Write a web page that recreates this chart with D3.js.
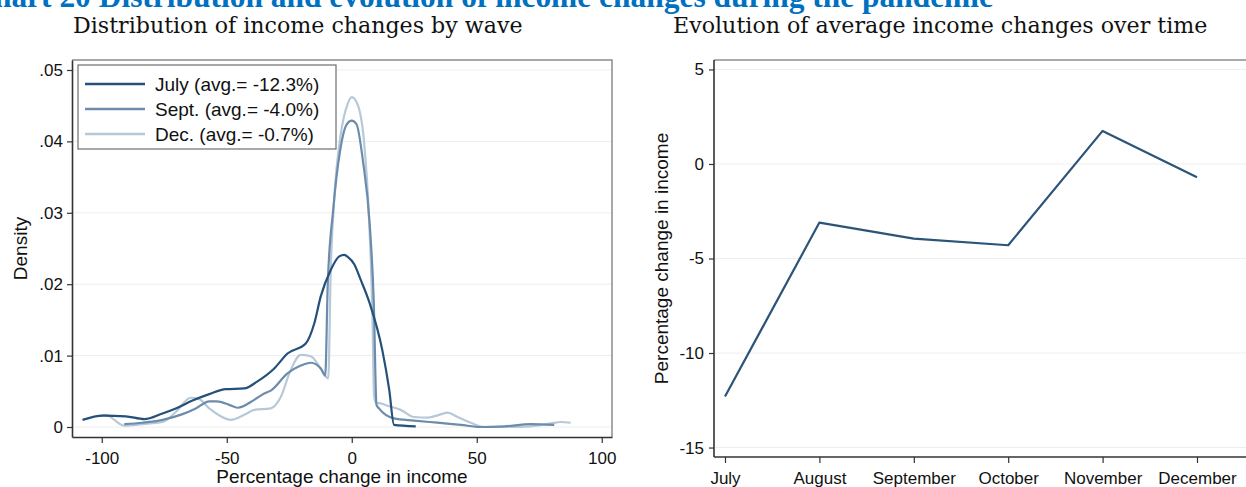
<!DOCTYPE html>
<html>
<head>
<meta charset="utf-8">
<script src="https://cdn.jsdelivr.net/npm/d3@7/dist/d3.min.js"></script>
<style>
  html, body { margin: 0; padding: 0; background: #fff; }
  svg { display: block; }
</style>
</head>
<body>
<svg id="chart" width="1246" height="487"></svg>
<script>
// ---------------- DATA ----------------
const headerText = "Chart 20 Distribution and evolution of income changes during the pandemic";
const leftTitle = "Distribution of income changes by wave";
const rightTitle = "Evolution of average income changes over time";

const seriesNames = ["July (avg.= -12.3%)", "Sept. (avg.= -4.0%)", "Dec. (avg.= -0.7%)"];

// July density: [income change %, density]
const julyDensity = [
  [-107.7,0.0010],[-99.7,0.0016],[-90.4,0.0015],[-83,0.0011],[-75.7,0.0019],[-70.4,0.0026],
  [-63.7,0.0037],[-57,0.0046],[-50.4,0.0053],[-43,0.0054],[-37.7,0.0064],[-31,0.0082],
  [-25.7,0.0103],[-18.4,0.0117],[-15,0.0145],[-12.4,0.0183],[-8.4,0.0220],[-5,0.0239],
  [-3,0.0241],[-1.5,0.0238],[1,0.0228],[3.6,0.0206],[7.2,0.0173],[12.2,0.0108],
  [15,0.0052],[16.9,0.0003],[25.6,0.0001]
];
const septDensity = [
  [-91,0.0004],[-83.7,0.0006],[-75.7,0.0010],[-67.7,0.0018],[-62.4,0.0026],[-57,0.0036],
  [-54,0.0036],[-49,0.0031],[-45.7,0.0027],[-39,0.0038],[-35,0.0047],[-32.4,0.0051],
  [-25.7,0.0075],[-20.4,0.0086],[-16.4,0.0090],[-12.4,0.0082],[-10.6,0.0072],[-9.6,0.0200],
  [-7.4,0.0305],[-4.7,0.0386],[-2,0.0424],[0,0.0429],[1.9,0.0424],[4.5,0.0372],
  [7.2,0.0283],[8.8,0.0176],[9.9,0.0031],[10.9,0.0026],[16.9,0.0012],[24.9,0.0009],
  [34.3,0.0006],[43.6,0.0003],[51.6,0.0000],[61,0.0001],[71.6,0.0004],[81,0.0003]
];
const decDensity = [
  [-101,0.0015],[-98,0.0017],[-95,0.0010],[-91,0.0002],[-83.7,0.0004],[-75.7,0.0007],
  [-70.4,0.0021],[-64.4,0.0041],[-61,0.0039],[-57,0.0026],[-52.4,0.0015],[-48.4,0.0010],
  [-43,0.0017],[-39,0.0024],[-32.4,0.0026],[-28.4,0.0042],[-24.4,0.0080],[-20.4,0.0101],
  [-16.4,0.0099],[-12.4,0.0082],[-9.4,0.0068],[-8.4,0.0220],[-7,0.0320],[-4.4,0.0410],
  [-1.7,0.0452],[0,0.0462],[2.3,0.0452],[4.9,0.0400],[6.9,0.0293],[8.3,0.0152],
  [8.9,0.0045],[9.6,0.0034],[11.6,0.0033],[15,0.0029],[19.6,0.0024],[24.9,0.0014],
  [30.2,0.0013],[34,0.0016],[38.3,0.0020],[42.3,0.0014],[47.6,0.0006],[52.9,0.0000],
  [63.6,0.0000],[71.6,0.0001],[79.6,0.0005],[83.6,0.0007],[87.6,0.0006]
];
const leftXTicks = [-100, -50, 0, 50, 100];
const leftYTicks = [0, 0.01, 0.02, 0.03, 0.04, 0.05];
const leftYTickLabels = ["0", ".01", ".02", ".03", ".04", ".05"];

const months = ["July", "August", "September", "October", "November", "December"];
const avgChange = [-12.3, -3.1, -3.95, -4.3, 1.75, -0.7];
const rightYTicks = [5, 0, -5, -10, -15];

// ---------------- STYLE ----------------
const colors = ["#24507a", "#6b8cab", "#b7c8d9"];
const axisFont = "'Liberation Sans', Arial, sans-serif";
const titleFont = "'DejaVu Serif', serif";
const svg = d3.select("#chart");

// fit text to target width by adjusting font-size
function fitText(sel, target, base) {
  const len = sel.node().getComputedTextLength();
  sel.attr("font-size", base * target / len);
}

// ---------------- HEADER / TITLES ----------------
const hdr = svg.append("text").text(headerText)
  .attr("x", 993).attr("y", 7).attr("text-anchor", "end")
  .attr("font-family", "'Liberation Serif', serif").attr("font-weight", "bold")
  .attr("fill", "#0070c0").attr("font-size", 24);
fitText(hdr, 1022, 24);

const lt = svg.append("text").text(leftTitle)
  .attr("x", 73).attr("y", 33).attr("font-family", titleFont)
  .attr("fill", "#111").attr("font-size", 22);
fitText(lt, 450, 22);
const rt = svg.append("text").text(rightTitle)
  .attr("x", 673).attr("y", 33).attr("font-family", titleFont)
  .attr("fill", "#111").attr("font-size", 22);
fitText(rt, 535, 22);

// ---------------- LEFT PANEL ----------------
const L = { left: 72, right: 612, top: 60, bottom: 437 };
const xL = d3.scaleLinear().domain([-111.9, 104.1]).range([L.left, L.right]);
const yL = d3.scaleLinear().domain([-0.0014, 0.0514]).range([L.bottom, L.top]);

const gL = svg.append("g");
// grid
gL.selectAll("line.grid").data(leftYTicks).join("line")
  .attr("x1", L.left).attr("x2", L.right)
  .attr("y1", d => yL(d)).attr("y2", d => yL(d))
  .attr("stroke", "#eeeeee").attr("stroke-width", 1);
// frame (top, right)
gL.append("path")
  .attr("d", `M${L.left},${L.top}H${L.right}V${L.bottom}`)
  .attr("fill", "none").attr("stroke", "#8c8c8c").attr("stroke-width", 1.5);

// curves
const lineL = d3.line().x(d => xL(d[0])).y(d => yL(d[1])).curve(d3.curveMonotoneX);
const curves = [julyDensity, septDensity, decDensity];
[2, 1, 0].forEach(i => {
  gL.append("path").datum(curves[i])
    .attr("d", lineL).attr("fill", "none")
    .attr("stroke", colors[i]).attr("stroke-width", 2.2)
    .attr("stroke-linejoin", "round");
});

// axes
const yAxisL = gL.append("g").attr("transform", `translate(${L.left},0)`)
  .call(d3.axisLeft(yL).tickValues(leftYTicks)
    .tickFormat((d, i) => leftYTickLabels[i]).tickSize(5).tickSizeOuter(0).tickPadding(4));
const xAxisL = gL.append("g").attr("transform", `translate(0,${L.bottom})`)
  .call(d3.axisBottom(xL).tickValues(leftXTicks).tickFormat(d3.format("d"))
    .tickSize(6).tickSizeOuter(0).tickPadding(9));
[yAxisL, xAxisL].forEach(a => {
  a.select(".domain").attr("stroke", "#333").attr("stroke-width", 1.6);
  a.selectAll(".tick line").attr("stroke", "#333").attr("stroke-width", 1.2);
  a.selectAll("text").attr("font-family", axisFont).attr("font-size", 17).attr("fill", "#111");
});
xAxisL.selectAll(".tick text").text(d => d < 0 ? "-" + Math.abs(d) : d);

// axis titles
gL.append("text").text("Percentage change in income")
  .attr("x", (L.left + L.right) / 2).attr("y", 483).attr("text-anchor", "middle")
  .attr("font-family", axisFont).attr("font-size", 19).attr("fill", "#111");
gL.append("text").text("Density")
  .attr("transform", `translate(27,${(L.top + L.bottom) / 2}) rotate(-90)`)
  .attr("text-anchor", "middle")
  .attr("font-family", axisFont).attr("font-size", 19).attr("fill", "#111");

// legend
const lg = gL.append("g");
lg.append("rect").attr("x", 78).attr("y", 65).attr("width", 258).attr("height", 84)
  .attr("fill", "#fff").attr("stroke", "#6e6e6e").attr("stroke-width", 1.2);
seriesNames.forEach((name, i) => {
  const yy = 84 + i * 25;
  lg.append("line").attr("x1", 85).attr("x2", 145).attr("y1", yy).attr("y2", yy)
    .attr("stroke", colors[i]).attr("stroke-width", 2.4);
  lg.append("text").text(name).attr("x", 155).attr("y", yy).attr("dy", "0.36em")
    .attr("font-family", axisFont).attr("font-size", 19).attr("fill", "#111");
});

// ---------------- RIGHT PANEL ----------------
const R = { left: 714, right: 1262, top: 60, bottom: 457 };
const xR = d3.scalePoint().domain(months).range([725, 1197]);
const yR = d3.scaleLinear().domain([-15.5, 5.5]).range([R.bottom, R.top]);
const gR = svg.append("g");

gR.selectAll("line.grid").data(rightYTicks).join("line")
  .attr("x1", R.left).attr("x2", R.right)
  .attr("y1", d => yR(d)).attr("y2", d => yR(d))
  .attr("stroke", "#eeeeee").attr("stroke-width", 1);
gR.append("line").attr("x1", R.left).attr("x2", R.right)
  .attr("y1", R.top).attr("y2", R.top)
  .attr("stroke", "#8c8c8c").attr("stroke-width", 1.5);

const lineR = d3.line().x((d, i) => xR(months[i])).y(d => yR(d));
gR.append("path").datum(avgChange).attr("d", lineR)
  .attr("fill", "none").attr("stroke", "#2b5478").attr("stroke-width", 2.2)
  .attr("stroke-linejoin", "round");

const yAxisR = gR.append("g").attr("transform", `translate(${R.left},0)`)
  .call(d3.axisLeft(yR).tickValues(rightYTicks).tickFormat(d3.format("d"))
    .tickSize(5).tickSizeOuter(0).tickPadding(5));
yAxisR.select(".domain").attr("d", `M0,${R.top}V${R.bottom}`);
const xAxisR = gR.append("g").attr("transform", `translate(0,${R.bottom})`)
  .call(d3.axisBottom(xR).tickSize(6).tickSizeOuter(0).tickPadding(9));
xAxisR.select(".domain").attr("d", `M${R.left},0H${R.right}`);
[yAxisR, xAxisR].forEach(a => {
  a.select(".domain").attr("stroke", "#333").attr("stroke-width", 1.6);
  a.selectAll(".tick line").attr("stroke", "#333").attr("stroke-width", 1.2);
  a.selectAll("text").attr("font-family", axisFont).attr("font-size", 17).attr("fill", "#111");
});
yAxisR.selectAll(".tick text").text(d => d < 0 ? "-" + Math.abs(d) : d);

gR.append("text").text("Percentage change in income")
  .attr("transform", `translate(668,${(R.top + R.bottom) / 2}) rotate(-90)`)
  .attr("text-anchor", "middle")
  .attr("font-family", axisFont).attr("font-size", 19).attr("fill", "#111");
</script>
</body>
</html>
